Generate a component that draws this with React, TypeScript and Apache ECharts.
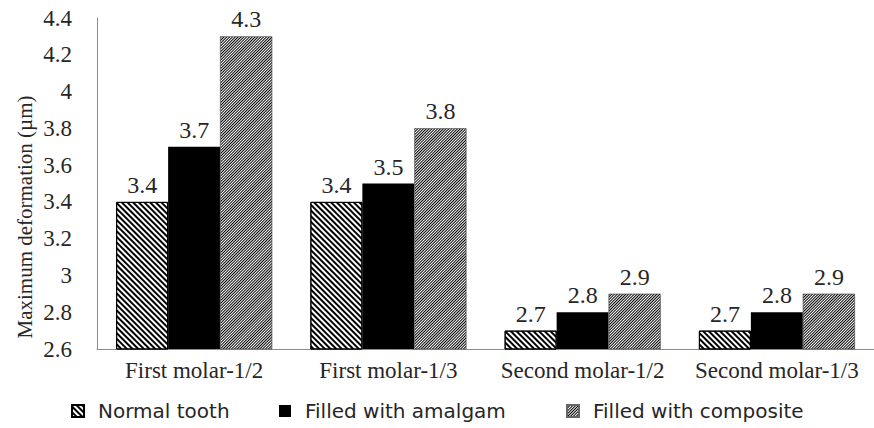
import React, { useEffect, useRef } from "react";
import * as echarts from "echarts";

const categories = ["First molar-1/2", "First molar-1/3", "Second molar-1/2", "Second molar-1/3"];
const normalTooth = [3.4, 3.4, 2.7, 2.7];
const amalgam = [3.7, 3.5, 2.8, 2.8];
const composite = [4.3, 3.8, 2.9, 2.9];
const seriesNames = ["Normal tooth", "Filled with amalgam", "Filled with composite"];

const SERIF = "'Liberation Serif', 'Times New Roman', serif";
const SANS = "'DejaVu Sans', Verdana, sans-serif";

export default function App() {
  const ref = useRef<HTMLDivElement>(null);
  useEffect(() => {
    if (!ref.current) return;
    const chart = echarts.init(ref.current, undefined, { renderer: "svg" });
    const label = {
      show: true,
      position: "top" as const,
      distance: 5,
      fontFamily: SERIF,
      fontSize: 24,
      color: "#262626",
    };
    const legendText = { fontFamily: SANS, fontSize: 20, color: "#262626", padding: [0, 0, 0, 9] };
    const mkLegend = (name: string, left: number) => ({
      data: [name],
      left,
      top: 401,
      icon: "rect",
      itemWidth: 12,
      itemHeight: 12,
      itemGap: 0,
      padding: 0,
      selectedMode: false,
      textStyle: legendText,
    });
    chart.setOption({
      animation: false,
      backgroundColor: "#ffffff",
      grid: { left: 97, top: 18, bottom: 79, width: 784, containLabel: false },
      legend: [mkLegend(seriesNames[0], 71), mkLegend(seriesNames[1], 279), mkLegend(seriesNames[2], 566)],
      graphic: [
        {
          type: "text",
          x: 25,
          y: 217,
          rotation: Math.PI / 2,
          style: {
            text: "Maximum deformation (µm)",
            fontFamily: SERIF,
            fontSize: 21,
            fill: "#262626",
            textAlign: "center",
            textVerticalAlign: "middle",
          },
        },
      ],
      xAxis: {
        type: "category",
        data: categories,
        axisLine: { show: true, lineStyle: { color: "#8c8c8c", width: 1 } },
        axisTick: { show: false },
        axisLabel: { fontFamily: SERIF, fontSize: 23, color: "#262626", margin: 10, interval: 0 },
        splitLine: { show: false },
      },
      yAxis: {
        type: "value",
        min: 2.6,
        max: 4.4,
        interval: 0.2,
        axisLine: { show: true, lineStyle: { color: "#8c8c8c", width: 1 } },
        axisTick: { show: false },
        splitLine: { show: false },
        axisLabel: {
          fontFamily: SERIF,
          fontSize: 23,
          color: "#262626",
          margin: 25,
          padding: [12, 0, 0, 0],
          formatter: (v: number) => String(+v.toFixed(1)),
        },
      },
      series: [
        {
          name: seriesNames[0],
          type: "bar",
          data: normalTooth,
          barWidth: 52,
          barGap: "0%",
          label,
          itemStyle: {
            color: "#ffffff",
            borderColor: "#000",
            borderWidth: 1,
            decal: {
              symbol: "rect",
              symbolSize: 1,
              color: "#000",
              dashArrayX: [1, 0],
              dashArrayY: [2, 2],
              rotation: Math.PI / 4,
            },
          },
        },
        {
          name: seriesNames[1],
          type: "bar",
          data: amalgam,
          barWidth: 52,
          barGap: "0%",
          label,
          itemStyle: { color: "#000" },
        },
        {
          name: seriesNames[2],
          type: "bar",
          data: composite,
          barWidth: 52,
          barGap: "0%",
          label,
          itemStyle: {
            color: "#ffffff",
            borderColor: "#666",
            borderWidth: 0.5,
            decal: {
              symbol: "rect",
              symbolSize: 1,
              color: "#000",
              dashArrayX: [1, 0],
              dashArrayY: [1, 1],
              rotation: -Math.PI / 4,
            },
          },
        },
      ],
    });
    return () => chart.dispose();
  }, []);
  return <div ref={ref} style={{ width: 874, height: 428, position: "absolute", left: 0, top: 0 }} />;
}
